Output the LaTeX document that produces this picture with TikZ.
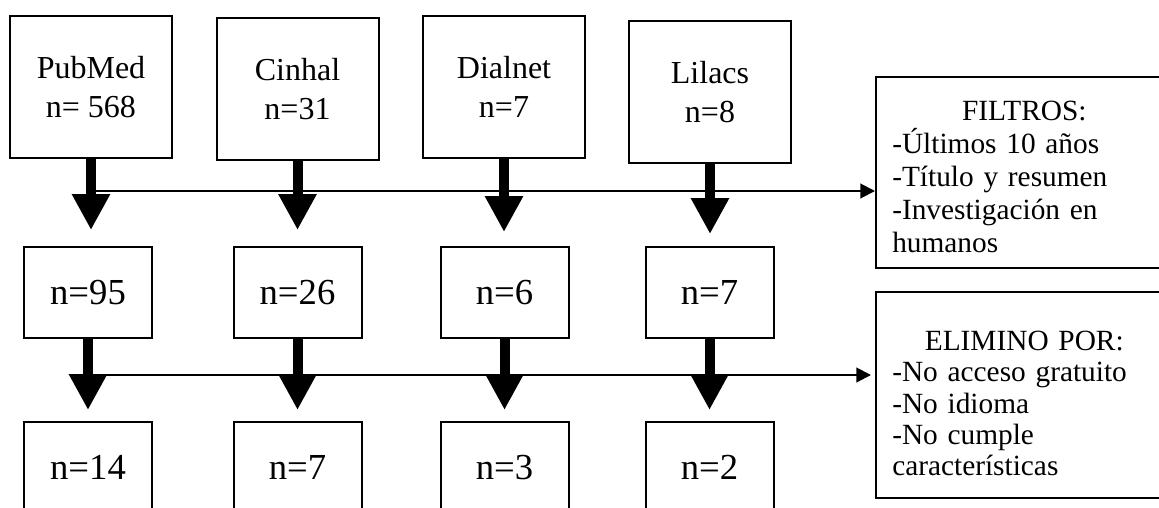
\documentclass[tikz,border=0pt]{standalone}
\usepackage{fontspec}
\setmainfont{Liberation Serif}
\usetikzlibrary{arrows.meta}
\begin{document}
\begin{tikzpicture}[x=0.75pt,y=-0.75pt,
  box/.style={draw, line width=1.5pt, inner sep=0pt, align=center},
  topbox/.style={box, minimum width=121.5pt, minimum height=106.5pt, font=\fontsize{24}{29.25}\selectfont},
  midbox/.style={box, minimum width=96pt, minimum height=68.25pt, font=\fontsize{27.5}{33}\selectfont},
  sidebox/.style={draw, line width=1.5pt, inner sep=0pt, minimum width=220.5pt},
  sidetext/.style={anchor=north west, inner sep=0pt, text width=198pt},
  bigarrow/.style={line width=7.5pt, -{Triangle[length=27pt,width=27pt]}},
  hline/.style={line width=1.5pt, -{Triangle[length=11pt,width=11pt]}}
]
\useasboundingbox (0,0) rectangle (1159,507);
\clip (0,0) rectangle (1159,507);
% top row
\node[topbox] (pub) at (91,87) {PubMed\\n= 568};
\node[topbox] (cin) at (297.5,89) {Cinhal\\n=31};
\node[topbox] (dia) at (504,87) {Dialnet\\n=7};
\node[topbox] (lil) at (710,92) {Lilacs\\n=8};
% middle row
\node[midbox] (m1) at (88,292.5) {n=95};
\node[midbox] (m2) at (297.5,292.5) {n=26};
\node[midbox] (m3) at (504.5,292.5) {n=6};
\node[midbox] (m4) at (709.5,292.5) {n=7};
% bottom row
\node[midbox] (b1) at (88,467.5) {n=14};
\node[midbox] (b2) at (297.5,467.5) {n=7};
\node[midbox] (b3) at (504.5,467.5) {n=3};
\node[midbox] (b4) at (709.5,467.5) {n=2};
% side boxes
\node[sidebox, minimum height=143.25pt] (filt) at (1023,172.5) {};
\node[sidetext, font=\fontsize{22}{24.75}\selectfont] (filtt) at (892,101)
  {\parindent=0pt\parskip=0pt
   {\centering FILTROS:\par}
   \raggedright
   -Últimos 10 años\par
   -Título y resumen\par
   -Investigación en\par
   humanos\par};
\node[sidebox, minimum height=154.5pt] (elim) at (1023,395) {};
\node[sidetext, font=\fontsize{22}{23.4}\selectfont] (elimt) at (892,331)
  {\parindent=0pt\parskip=0pt
   {\centering ELIMINO POR:\par}
   \raggedright
   -No acceso gratuito\par
   -No idioma\par
   -No cumple\par
   características\par};
% horizontal connectors
\coordinate (h1) at (92,191);
\coordinate (h2) at (87,375);
\draw[hline] (h1) -- (h1 -| filt.west);
\draw[hline, shorten >=3pt] (h2) -- (h2 -| elim.west);
% thick arrows row 1
\draw[bigarrow, shorten >=12pt] (pub.south) -- (pub.south |- m1.north);
\draw[bigarrow, shorten >=12pt] (cin.south) -- (cin.south |- m2.north);
\draw[bigarrow, shorten >=10.5pt] (dia.south) -- (dia.south |- m3.north);
\draw[bigarrow, shorten >=9pt] (lil.south) -- (lil.south |- m4.north);
% thick arrows row 2
\draw[bigarrow, shorten >=8.25pt] (m1.south) -- (m1.south |- b1.north);
\draw[bigarrow, shorten >=8.25pt] (m2.south) -- (m2.south |- b2.north);
\draw[bigarrow, shorten >=8.25pt] (m3.south) -- (m3.south |- b3.north);
\draw[bigarrow, shorten >=8.25pt] (m4.south) -- (m4.south |- b4.north);
\end{tikzpicture}
\end{document}
